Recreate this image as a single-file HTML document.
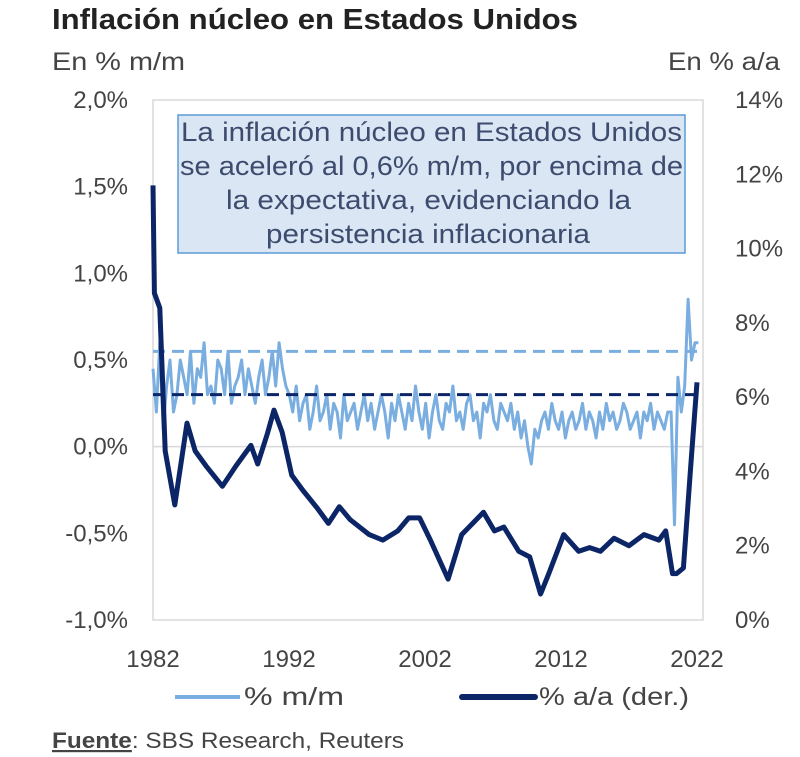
<!DOCTYPE html>
<html><head><meta charset="utf-8"><style>
html,body{margin:0;padding:0;background:#fff;}
body{width:800px;height:757px;overflow:hidden;position:relative;font-family:"Liberation Sans",sans-serif;}
svg{position:absolute;left:0;top:0;}
</style></head><body>
<svg id="chart" width="800" height="757" font-family="'Liberation Sans',sans-serif">
<text x="52" y="29" font-size="29" font-weight="bold" fill="#222" textLength="526" lengthAdjust="spacingAndGlyphs">Inflación núcleo en Estados Unidos</text>
<text x="52" y="70" font-size="25" fill="#444" textLength="133" lengthAdjust="spacingAndGlyphs">En % m/m</text>
<text x="668" y="70" font-size="25" fill="#444" textLength="112" lengthAdjust="spacingAndGlyphs">En % a/a</text>
<rect x="153" y="100" width="550" height="520" fill="none" stroke="#d9d9d9" stroke-width="1.5"/>
<g id="ticks"></g>
<g id="series"></g>
<rect x="178" y="115" width="507" height="138" fill="#dbe6f4" stroke="#5b9bd5" stroke-width="1.5"/>
<g font-size="27" fill="#3d4b6e">
<text x="181" y="141" textLength="501" lengthAdjust="spacingAndGlyphs">La inflación núcleo en Estados Unidos</text>
<text x="180" y="175" textLength="503" lengthAdjust="spacingAndGlyphs">se aceleró al 0,6% m/m, por encima de</text>
<text x="226" y="209" textLength="405" lengthAdjust="spacingAndGlyphs">la expectativa, evidenciando la</text>
<text x="266" y="243" textLength="324" lengthAdjust="spacingAndGlyphs">persistencia inflacionaria</text>
</g>
<line x1="175" y1="697" x2="240" y2="697" stroke="#7aaee0" stroke-width="4"/>
<text x="244" y="705" font-size="25" fill="#444" textLength="100" lengthAdjust="spacingAndGlyphs">% m/m</text>
<line x1="462" y1="697" x2="535" y2="697" stroke="#0b2566" stroke-width="6" stroke-linecap="round"/>
<text x="539" y="705" font-size="25" fill="#444" textLength="150" lengthAdjust="spacingAndGlyphs">% a/a (der.)</text>
<text x="52" y="748" font-size="22" fill="#444" textLength="352" lengthAdjust="spacingAndGlyphs"><tspan font-weight="bold" text-decoration="underline">Fuente</tspan>: SBS Research, Reuters</text>
</svg>
<script>
const leftTicks=[2.0,1.5,1.0,0.5,0.0,-0.5,-1.0];
const rightTicks=[14,12,10,8,6,4,2,0];
const xTicks=[1982,1992,2002,2012,2022];
const aaYears=[1982.0,1982.1,1982.5,1982.9,1983.6,1984.5,1985.1,1985.9,1987.1,1988.1,1989.2,1989.7,1990.4,1990.9,1991.5,1992.2,1993.0,1994.1,1994.9,1995.7,1996.5,1997.9,1998.9,2000.0,2000.8,2001.6,2002.4,2003.7,2004.7,2006.3,2007.1,2007.8,2008.9,2009.7,2010.5,2011.1,2012.2,2013.3,2014.1,2014.9,2015.9,2017.0,2018.1,2019.2,2019.7,2020.2,2020.5,2021.0,2021.5,2022.0];
const aaValues=[11.7,8.8,8.4,4.55,3.1,5.3,4.55,4.15,3.6,4.15,4.7,4.2,5.0,5.65,5.05,3.9,3.5,3.0,2.6,3.05,2.7,2.3,2.15,2.4,2.75,2.75,2.15,1.1,2.3,2.9,2.4,2.5,1.85,1.7,0.7,1.25,2.3,1.85,1.95,1.85,2.2,2.0,2.3,2.15,2.4,1.25,1.25,1.4,3.95,6.4];
const mmValues=[0.45,0.2,0.6,0.1,0.35,0.5,0.2,0.3,
0.5,0.4,0.3,0.55,0.25,0.45,0.4,0.6,0.3,0.35,0.25,0.5,0.45,0.3,0.55,0.25,0.35,0.4,0.5,0.3,0.45,0.35,0.25,0.4,0.5,0.3,0.4,0.55,0.35,0.6,0.45,0.35,
0.3,0.2,0.35,0.15,0.25,0.3,0.1,0.2,0.35,0.15,0.2,0.3,0.1,0.25,0.2,0.05,0.3,0.15,0.2,0.25,0.1,0.2,0.3,0.15,0.25,0.1,0.2,0.3,0.2,0.05,0.25,0.15,0.3,0.2,0.1,0.25,0.15,0.35,0.2,0.1,0.25,0.05,0.2,0.3,0.15,0.1,0.25,0.2,0.35,0.15,0.2,0.1,0.25,0.3,0.15,0.2,0.05,0.25,0.2,0.3,0.15,0.1,0.25,0.2,
0.15,0.25,0.1,0.2,0.05,0.15,0.0,-0.1,0.1,0.05,0.15,0.2,0.1,0.25,0.15,0.1,0.2,0.05,0.15,0.2,0.1,0.15,0.25,0.1,0.2,0.15,0.05,0.2,0.1,0.25,0.15,0.2,0.1,0.15,0.25,0.2,0.1,0.15,0.2,0.05,0.2,0.15,0.25,0.1,0.2,0.15,0.1,0.2,
0.2,-0.45,0.4,0.2,0.35,0.85,0.5,0.6,0.6];
const mmStart=1982.0, mmEnd=2022.1;
const mmAvg=0.55, aaAvgLeft=0.3;

const X0=153,X1=697,Y0=100,Y1=620;
const xs=y=>X0+(y-1982)/(2022-1982)*(X1-X0);
const yl=v=>Y1-(v+1)/3*(Y1-Y0);
const yr=v=>Y1-v/14*(Y1-Y0);
const NS='http://www.w3.org/2000/svg';
const tg=document.getElementById('ticks'), sg=document.getElementById('series');
function txt(x,y,s,anchor){const t=document.createElementNS(NS,'text');t.setAttribute('x',x);t.setAttribute('y',y);t.setAttribute('font-size','24');t.setAttribute('fill','#444');t.setAttribute('text-anchor',anchor);t.textContent=s;tg.appendChild(t);return t;}
leftTicks.forEach(v=>{const t=txt(128,yl(v)+8,v.toFixed(1).replace('.',',')+'%','end');

});
rightTicks.forEach(v=>{const t=txt(735,yr(v)+8,v+'%','start');

});
xTicks.forEach(v=>{const t=txt(xs(v),667,String(v),'middle');

});
const zl=document.createElementNS(NS,'line');
zl.setAttribute('x1',X0);zl.setAttribute('x2',703);zl.setAttribute('y1',yl(0));zl.setAttribute('y2',yl(0));zl.setAttribute('stroke','#d9d9d9');zl.setAttribute('stroke-width','1.5');


tg.appendChild(zl);
function path(d,stroke,w,dash){const p=document.createElementNS(NS,'path');p.setAttribute('d',d);p.setAttribute('fill','none');p.setAttribute('stroke',stroke);p.setAttribute('stroke-width',w);p.setAttribute('stroke-linejoin','round');if(dash)p.setAttribute('stroke-dasharray',dash);sg.appendChild(p);return p;}
const n=mmValues.length;
let d='';mmValues.forEach((v,i)=>{const yr_=mmStart+i*(mmEnd-mmStart)/(n-1);d+=(i?'L':'M')+xs(yr_).toFixed(1)+','+yl(v).toFixed(1);});
const pm=path(d,'#7aaee0',3);


const da=path('M'+X0+','+yl(mmAvg)+'L703,'+yl(mmAvg),'#7aaee0',3,'12,7');


let d2='';aaValues.forEach((v,i)=>{d2+=(i?'L':'M')+xs(aaYears[i]).toFixed(1)+','+yr(v).toFixed(1);});
const pa=path(d2,'#0b2566',5);


const db=path('M'+X0+','+yl(aaAvgLeft)+'L703,'+yl(aaAvgLeft),'#0b2566',3,'12,7');


</script>
</body></html>
